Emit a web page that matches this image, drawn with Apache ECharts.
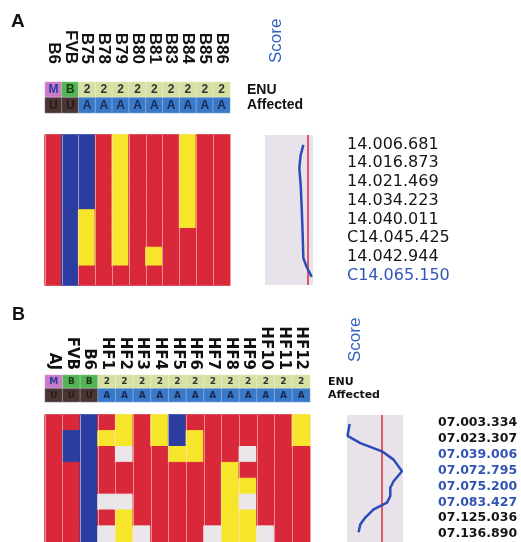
<!DOCTYPE html>
<html><head><meta charset="utf-8">
<script src="https://cdn.jsdelivr.net/npm/echarts@6/dist/echarts.min.js"></script>
<style>html,body{margin:0;padding:0;background:#fff}#c{width:521px;height:542px}</style>
</head><body><div id="c"></div>
<script>
// ---------- Panel A data ----------
const strainsA = ['B6','FVB','B75','B78','B79','B80','B81','B83','B84','B85','B86'];
const enuA = ['M','B','2','2','2','2','2','2','2','2','2'];
const affectedA = ['U','U','A','A','A','A','A','A','A','A','A'];
// genotype per strain, top to bottom (R red, B blue, Y yellow, W grey)
const genotypesA = ['RRRRRRRR','BBBBBBBB','BBBBYYYR','RRRRRRRR','YYYYYYYR','RRRRRRRR','RRRRRRYR','RRRRRRRR','YYYYYRRR','RRRRRRRR','RRRRRRRR'];
const markersA = ['14.006.681','14.016.873','14.021.469','14.034.223','14.040.011','C14.045.425','14.042.944','C14.065.150'];
const markerHighlightA = [0,0,0,0,0,0,0,1];
const scoreA = [4.79,4.46,4.29,4.46,4.59,4.71,4.79,5.21,5.84];
const scorePosA = [0.53,1.07,1.76,2.67,3.89,5.33,6.56,7.04,7.57];
const thresholdA = 5.34;

// ---------- Panel B data ----------
const strainsB = ['AJ','FVB','B6','HF1','HF2','HF3','HF4','HF5','HF6','HF7','HF8','HF9','HF10','HF11','HF12'];
const enuB = ['M','B','B','2','2','2','2','2','2','2','2','2','2','2','2'];
const affectedB = ['U','U','U','A','A','A','A','A','A','A','A','A','A','A','A'];
const genotypesB = ['RRRRRRRR','RBBRRRRR','BBBBBBBB','RYRRRWRW','YYWRRWYY','RRRRRRRW','YYRRRRRR','BBYRRRRR','RYYRRRRR','RRRRRRRW','RRRYYYYY','RRWRYWYY','RRRRRRRW','RRRRRRRR','YYRRRRRR'];
const markersB = ['07.003.334','07.023.307','07.039.006','07.072.795','07.075.200','07.083.427','07.125.036','07.136.890'];
const markerHighlightB = [0,0,1,1,1,1,0,0];
const scoreB = [0.28,0.06,1.43,3.75,4.99,5.89,4.99,4.64,4.64,4.29,2.85,1.96,1.43,1.24];
const scorePosB = [0.56,1.31,1.77,2.29,2.81,3.54,4.17,4.58,5.10,5.52,5.94,6.46,6.88,7.39];
const thresholdB = 3.75;

const rowNames = ['0','1','2','3','4','5','6','7'];
const headerRows = ['ENU','Affected'];

// ---------- styles ----------
const genoColor = {R:'#d8283a', B:'#2b3da0', Y:'#f7e52c', W:'#ebe6ea'};
const headColor = {M:'#c97ac9', B:'#55b455', '2':'#d6e0a2', U:'#4a3535', A:'#3a78c8'};
const headText = {M:'#2a3a9a', B:'#1a3a1a', '2':'#333333', U:'#2a1818', A:'#1a2a55'};

function headerData(enu, aff){
  const out = [];
  enu.forEach((v,i)=>out.push({value:[i,0,1], name:v, itemStyle:{color:headColor[v]}, label:{color:headText[v]}}));
  aff.forEach((v,i)=>out.push({value:[i,1,1], name:v, itemStyle:{color:headColor[v]}, label:{color:headText[v]}}));
  return out;
}
function genoData(geno){
  const out = [];
  geno.forEach((col,i)=>{ for(let r=0;r<col.length;r++){ const c = genoColor[col[r]];
    out.push({value:[i,r,1], itemStyle:{color:c, borderColor:c, borderWidth:1}}); } });
  return out;
}
function lineData(s,p){ return s.map((v,i)=>[v,p[i]]); }

const blueTxt = '#3255b5';
const grids = [
  {left:45, top:82, width:185, height:31},
  {left:45, top:135, width:185, height:150},
  {left:265, top:135, width:48, height:150, show:true, backgroundColor:'#e8e3ea', borderWidth:0},
  {left:45, top:375, width:265, height:27},
  {left:45, top:415, width:265, height:128},
  {left:347, top:415, width:56, height:128, show:true, backgroundColor:'#e8e3ea', borderWidth:0}
];
const hiddenLines = {axisLine:{show:false}, axisTick:{show:false}};
const splitCols = {show:true, interval:0, lineStyle:{color:'rgba(255,225,230,0.55)', width:1}};
const xAxes = [
  Object.assign({gridIndex:0, type:'category', data:strainsA, position:'top', z:10,
    axisLabel:{interval:0, rotate:90, margin:18, fontFamily:'Liberation Sans', fontWeight:'bold', fontSize:17, color:'#111'}}, hiddenLines),
  Object.assign({gridIndex:1, type:'category', data:strainsA, z:10, axisLabel:{show:false}, splitLine:splitCols}, hiddenLines),
  {gridIndex:2, type:'value', min:0, max:6, show:false},
  Object.assign({gridIndex:3, type:'category', data:strainsB, position:'top', z:10,
    axisLabel:{interval:0, rotate:90, margin:5, fontFamily:'DejaVu Sans', fontWeight:'bold', fontSize:15, color:'#111'}}, hiddenLines),
  Object.assign({gridIndex:4, type:'category', data:strainsB, z:10, axisLabel:{show:false}, splitLine:splitCols}, hiddenLines),
  {gridIndex:5, type:'value', min:0, max:6, show:false}
];
const yAxes = [
  Object.assign({gridIndex:0, type:'category', data:headerRows, inverse:true, position:'right',
    axisLabel:{interval:0, margin:17, align:'left', fontFamily:'Liberation Sans', fontWeight:'bold', fontSize:14, color:'#111'}}, hiddenLines),
  {gridIndex:1, type:'category', data:rowNames, inverse:true, show:false},
  {gridIndex:2, type:'value', min:0, max:8, inverse:true, show:false, position:'left'},
  Object.assign({gridIndex:2, type:'category', data:markersA, inverse:true, position:'right',
    axisLabel:{interval:0, margin:34, align:'left', fontFamily:'DejaVu Sans', fontSize:16,
      color:(v,i)=>markerHighlightA[i]?blueTxt:'#151515'}}, hiddenLines),
  Object.assign({gridIndex:3, type:'category', data:headerRows, inverse:true, position:'right',
    axisLabel:{interval:0, margin:18, align:'left', fontFamily:'DejaVu Sans', fontWeight:'bold', fontSize:11, color:'#111'}}, hiddenLines),
  {gridIndex:4, type:'category', data:rowNames, inverse:true, show:false},
  {gridIndex:5, type:'value', min:0, max:8, inverse:true, show:false, position:'left'},
  Object.assign({gridIndex:5, type:'category', data:markersB, inverse:true, position:'right',
    axisLabel:{interval:0, margin:35, align:'left', fontFamily:'DejaVu Sans', fontWeight:'bold', fontSize:12.5,
      color:(v,i)=>markerHighlightB[i]?blueTxt:'#151515'}}, hiddenLines)
];

function headerSeries(xi, yi, data, fs, ff){
  return {type:'heatmap', xAxisIndex:xi, yAxisIndex:yi, data:data,
    itemStyle:{borderColor:'rgba(255,255,255,0.3)', borderWidth:1},
    label:{show:true, formatter:p=>p.name, fontSize:fs, fontWeight:'bold', fontFamily:ff},
    emphasis:{disabled:true}};
}
function genoSeries(xi, yi, data){
  return {type:'heatmap', xAxisIndex:xi, yAxisIndex:yi, data:data, emphasis:{disabled:true}};
}
function scoreSeries(xi, yi, data, thr){
  return {type:'line', xAxisIndex:xi, yAxisIndex:yi, data:data, showSymbol:false, smooth:false,
    lineStyle:{color:'#2b4cb8', width:2.5}, z:5,
    markLine:{silent:true, symbol:'none', label:{show:false}, lineStyle:{color:'#e0283c', width:1.5, type:'solid'},
      data:[{xAxis:thr}]}};
}

const option = {
  animation:false,
  backgroundColor:'#ffffff',
  grid:grids, xAxis:xAxes, yAxis:yAxes,
  series:[
    headerSeries(0,0,headerData(enuA,affectedA),12,'Liberation Sans'),
    genoSeries(1,1,genoData(genotypesA)),
    scoreSeries(2,2,lineData(scoreA,scorePosA),thresholdA),
    headerSeries(3,4,headerData(enuB,affectedB),9,'DejaVu Sans'),
    genoSeries(4,5,genoData(genotypesB)),
    scoreSeries(5,6,lineData(scoreB,scorePosB),thresholdB)
  ],
  graphic:[
    {type:'text', x:11, y:12, style:{text:'A', fontSize:19, fontWeight:'bold', fontFamily:'Liberation Sans', fill:'#111'}},
    {type:'text', x:12, y:306, style:{text:'B', fontSize:18, fontWeight:'bold', fontFamily:'Liberation Sans', fill:'#111'}},
    {type:'text', x:276, y:63, rotation:Math.PI/2, style:{text:'Score', fontSize:17, fontFamily:'Liberation Sans', fill:'#2f5fc0', align:'left', verticalAlign:'middle'}},
    {type:'text', x:355, y:362, rotation:Math.PI/2, style:{text:'Score', fontSize:17, fontFamily:'Liberation Sans', fill:'#2f5fc0', align:'left', verticalAlign:'middle'}}
  ]
};
const chart = echarts.init(document.getElementById('c'), null, {renderer:'canvas'});
chart.setOption(option);
</script>
</body></html>
